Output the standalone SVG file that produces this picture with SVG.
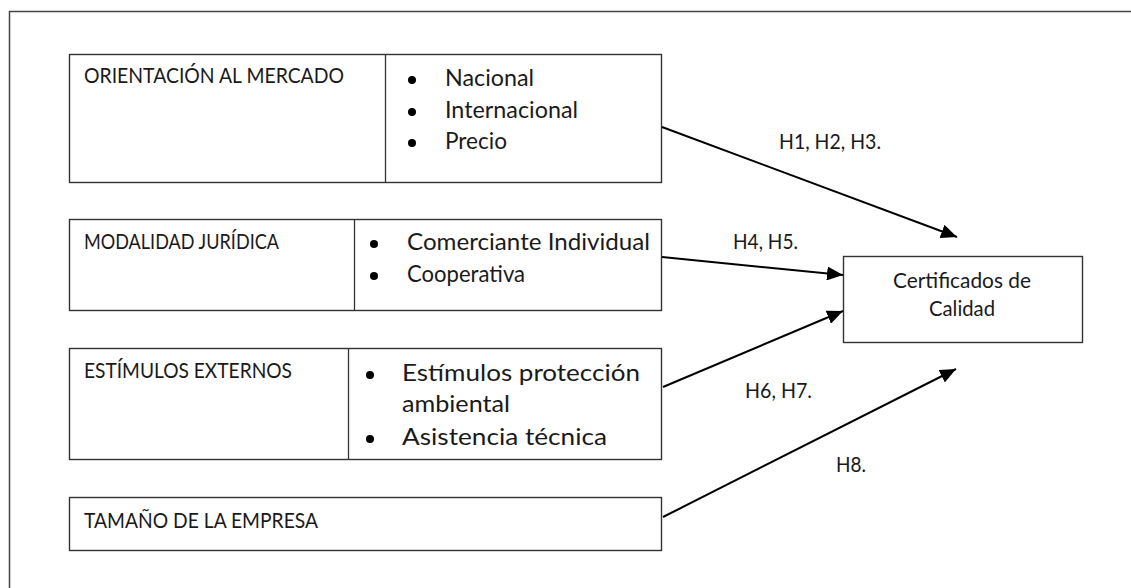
<svg xmlns="http://www.w3.org/2000/svg" width="1131" height="588" viewBox="0 0 1131 588">
<style>
.box{fill:#fff;stroke:#333;stroke-width:1.4}
.div{stroke:#333;stroke-width:1.3}
.t{font-family:Lato,"Open Sans","Liberation Sans",sans-serif;font-size:24px;fill:#1a1a1a}
.h{font-family:Lato,"Open Sans","Liberation Sans",sans-serif;font-size:21.5px;fill:#1a1a1a}
.b{fill:#000}
.c{stroke:#000;stroke-width:2;fill:none}
</style>
<defs>
<marker id="arr" markerUnits="userSpaceOnUse" markerWidth="18" markerHeight="14" refX="16" refY="7" orient="auto">
<path d="M0,0 L16,7 L0,14 Z" fill="#000"/>
</marker>
</defs>
<rect width="1131" height="588" fill="#fff"/>
<path d="M9.5,588 V11.5 H1131" fill="none" stroke="#444" stroke-width="1.5"/>

<g id="orientacion">
<rect class="box" x="69.5" y="54.5" width="592" height="128"/>
<line class="div" x1="385.5" y1="54.5" x2="385.5" y2="182.5"/>
<text class="h" x="84" y="83" textLength="260" lengthAdjust="spacingAndGlyphs">ORIENTACIÓN AL MERCADO</text>
<circle class="b" cx="412" cy="80" r="4"/>
<circle class="b" cx="412" cy="112" r="4"/>
<circle class="b" cx="412" cy="143" r="4"/>
<text class="t" x="445" y="86" textLength="89" lengthAdjust="spacingAndGlyphs">Nacional</text>
<text class="t" x="445" y="118" textLength="133" lengthAdjust="spacingAndGlyphs">Internacional</text>
<text class="t" x="445" y="149" textLength="62" lengthAdjust="spacingAndGlyphs">Precio</text>
</g>

<g id="modalidad">
<rect class="box" x="69.5" y="219.5" width="592" height="91"/>
<line class="div" x1="354.5" y1="219.5" x2="354.5" y2="310.5"/>
<text class="h" x="84" y="249" textLength="195" lengthAdjust="spacingAndGlyphs">MODALIDAD JURÍDICA</text>
<circle class="b" cx="374" cy="244" r="4"/>
<circle class="b" cx="374" cy="276" r="4"/>
<text class="t" x="407" y="250" textLength="243" lengthAdjust="spacingAndGlyphs">Comerciante Individual</text>
<text class="t" x="407" y="282" textLength="118" lengthAdjust="spacingAndGlyphs">Cooperativa</text>
</g>

<g id="estimulos">
<rect class="box" x="69.5" y="348.5" width="592" height="111"/>
<line class="div" x1="348.5" y1="348.5" x2="348.5" y2="459.5"/>
<text class="h" x="84" y="378" textLength="208" lengthAdjust="spacingAndGlyphs">ESTÍMULOS EXTERNOS</text>
<circle class="b" cx="370" cy="375" r="4"/>
<circle class="b" cx="370" cy="439" r="4"/>
<text class="t" x="402" y="381" textLength="238" lengthAdjust="spacingAndGlyphs">Estímulos protección</text>
<text class="t" x="402" y="412" textLength="108" lengthAdjust="spacingAndGlyphs">ambiental</text>
<text class="t" x="402" y="445" textLength="205" lengthAdjust="spacingAndGlyphs">Asistencia técnica</text>
</g>

<g id="tamano">
<rect class="box" x="69.5" y="497.5" width="592" height="53"/>
<text class="h" x="84" y="528" textLength="234" lengthAdjust="spacingAndGlyphs">TAMAÑO DE LA EMPRESA</text>
</g>

<g id="certificados">
<rect class="box" x="843.5" y="256.5" width="239" height="86" stroke-width="2"/>
<text class="h" x="962" y="288" text-anchor="middle" textLength="138" lengthAdjust="spacingAndGlyphs">Certificados de</text>
<text class="h" x="962" y="316" text-anchor="middle" textLength="66" lengthAdjust="spacingAndGlyphs">Calidad</text>
</g>

<g id="connectors">
<line class="c" x1="662" y1="127" x2="957" y2="237" marker-end="url(#arr)"/>
<line class="c" x1="662" y1="257" x2="843" y2="275" marker-end="url(#arr)"/>
<line class="c" x1="663" y1="387" x2="843" y2="311" marker-end="url(#arr)"/>
<line class="c" x1="663" y1="517" x2="956" y2="369" marker-end="url(#arr)"/>
<text class="h" x="779" y="149" textLength="102" lengthAdjust="spacingAndGlyphs">H1, H2, H3.</text>
<text class="h" x="733" y="249" textLength="65" lengthAdjust="spacingAndGlyphs">H4, H5.</text>
<text class="h" x="745" y="398" textLength="67" lengthAdjust="spacingAndGlyphs">H6, H7.</text>
<text class="h" x="836" y="472" textLength="30" lengthAdjust="spacingAndGlyphs">H8.</text>
</g>
</svg>
